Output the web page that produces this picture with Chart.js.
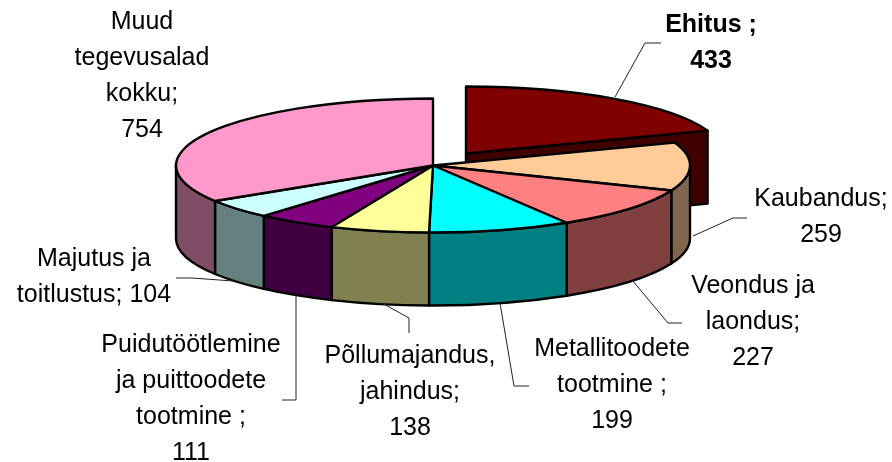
<!DOCTYPE html>
<html>
<head>
<meta charset="utf-8">
<style>
    html, body { margin: 0; padding: 0; background: #fff; }
    #pie3d { display: block; }
</style>
<script src="https://cdn.jsdelivr.net/npm/chart.js@4"></script>
</head>
<body>
<canvas id="pie3d" width="892" height="462"></canvas>
<script>
const categories = ['Ehitus', 'Kaubandus', 'Veondus ja laondus', 'Metallitoodete tootmine', 'Põllumajandus, jahindus', 'Puidutöötlemine ja puittoodete tootmine', 'Majutus ja toitlustus', 'Muud tegevusalad kokku'];
const values = [433, 259, 227, 199, 138, 111, 104, 754];
const topColors = ['#800000', '#ffcc99', '#ff8080', '#00ffff', '#ffff99', '#800080', '#ccffff', '#ff99cc'];
const wallColors = ['#400000', '#80664d', '#804040', '#008080', '#808050', '#400040', '#668080', '#804d66'];
const labelLines = [
    ['Ehitus ;', '433'],
    ['Kaubandus;', '259'],
    ['Veondus ja', 'laondus;', '227'],
    ['Metallitoodete', 'tootmine ;', '199'],
    ['Põllumajandus,', 'jahindus;', '138'],
    ['Puidutöötlemine', 'ja puittoodete', 'tootmine ;', '111'],
    ['Majutus ja', 'toitlustus; 104'],
    ['Muud', 'tegevusalad', 'kokku;', '754']
];

// layout of the tilted pie
const pie = { cx: 433, cy: 165.5, rx: 257, ry: 67, depth: 73 };
const explodeX = [33, 0, 0, 0, 0, 0, 0, 0];
const explodeY = [-12, 0, 0, 0, 0, 0, 0, 0];
const labelX = [711, 821, 753, 612, 410, 191, 94, 142];
const labelY = [32, 206, 293, 356, 363, 352, 266, 29];
const labelStep = 36;
const leaders = [
    [[615, 97], [645, 43], [661, 43]],
    [[693, 236], [733, 218], [747, 218]],
    [[632, 280], [668, 323], [682, 323]],
    [[500, 303], [514, 386], [529, 386]],
    [[382, 303], [409, 318], [409, 333]],
    [[296, 293], [296, 400], [282, 400]],
    [[176, 278], [192, 278], [233, 281]]
];

function drawWall(ctx, arc, index) {
    const dx = explodeX[index], dy = explodeY[index];
    const x = pie.cx + dx, y = pie.cy + dy;
    ctx.fillStyle = wallColors[index];

    // curved rim, only the part that faces the viewer
    const from = Math.max(arc.startAngle, 0);
    const to = Math.min(arc.endAngle, Math.PI);
    if (from < to) {
        ctx.beginPath();
        ctx.ellipse(x, y, pie.rx, pie.ry, 0, from, to);
        ctx.ellipse(x, y + pie.depth, pie.rx, pie.ry, 0, to, from, true);
        ctx.closePath();
        ctx.fill();
        ctx.stroke();
    }

    // cut face of the pulled out slice
    if (dx !== 0) {
        const rimX = x + pie.rx * Math.cos(arc.endAngle);
        const rimY = y + pie.ry * Math.sin(arc.endAngle);
        ctx.beginPath();
        ctx.moveTo(x, y);
        ctx.lineTo(rimX, rimY);
        ctx.lineTo(rimX, rimY + pie.depth);
        ctx.lineTo(x, y + pie.depth);
        ctx.closePath();
        ctx.fill();
        ctx.stroke();
    }
}

function drawTop(ctx, arc, index) {
    const x = pie.cx + explodeX[index], y = pie.cy + explodeY[index];

    // the library draws the slice, squeezed into the ellipse
    ctx.save();
    ctx.translate(x, y);
    ctx.scale(pie.rx / arc.outerRadius, pie.ry / arc.outerRadius);
    ctx.translate(-arc.x, -arc.y);
    arc.draw(ctx);
    ctx.restore();

    ctx.beginPath();
    ctx.moveTo(x, y);
    ctx.ellipse(x, y, pie.rx, pie.ry, 0, arc.startAngle, arc.endAngle);
    ctx.closePath();
    ctx.stroke();
}

const tiltedPie = {
    id: 'tiltedPie',
    beforeDatasetsDraw(chart) {
        const ctx = chart.ctx;
        const arcs = chart.getDatasetMeta(0).data;
        ctx.save();
        ctx.strokeStyle = '#000';
        ctx.lineWidth = 2.4;
        ctx.lineJoin = 'round';

        // pulled out slice goes behind everything else
        drawWall(ctx, arcs[0], 0);
        drawTop(ctx, arcs[0], 0);
        for (let i = 1; i < arcs.length; i++) drawWall(ctx, arcs[i], i);
        for (let i = 1; i < arcs.length; i++) drawTop(ctx, arcs[i], i);
        ctx.restore();
        return false;
    },
    afterDraw(chart) {
        const ctx = chart.ctx;
        ctx.save();
        ctx.strokeStyle = '#222';
        ctx.lineWidth = 1;
        leaders.forEach(points => {
            ctx.beginPath();
            points.forEach((p, i) => i ? ctx.lineTo(p[0], p[1]) : ctx.moveTo(p[0], p[1]));
            ctx.stroke();
        });

        ctx.fillStyle = '#000';
        ctx.textAlign = 'center';
        ctx.textBaseline = 'alphabetic';
        labelLines.forEach((lines, i) => {
            ctx.font = (i === 0 ? 'bold ' : '') + '25px "Liberation Sans", Arial, sans-serif';
            lines.forEach((line, j) => ctx.fillText(line, labelX[i], labelY[i] + j * labelStep));
        });
        ctx.restore();
    }
};

new Chart(document.getElementById('pie3d'), {
    type: 'pie',
    data: {
        labels: categories,
        datasets: [{
            data: values,
            backgroundColor: topColors,
            borderWidth: 0
        }]
    },
    options: {
        responsive: false,
        animation: false,
        plugins: {
            legend: { display: false },
            tooltip: { enabled: false }
        }
    },
    plugins: [tiltedPie]
});
</script>
</body>
</html>
